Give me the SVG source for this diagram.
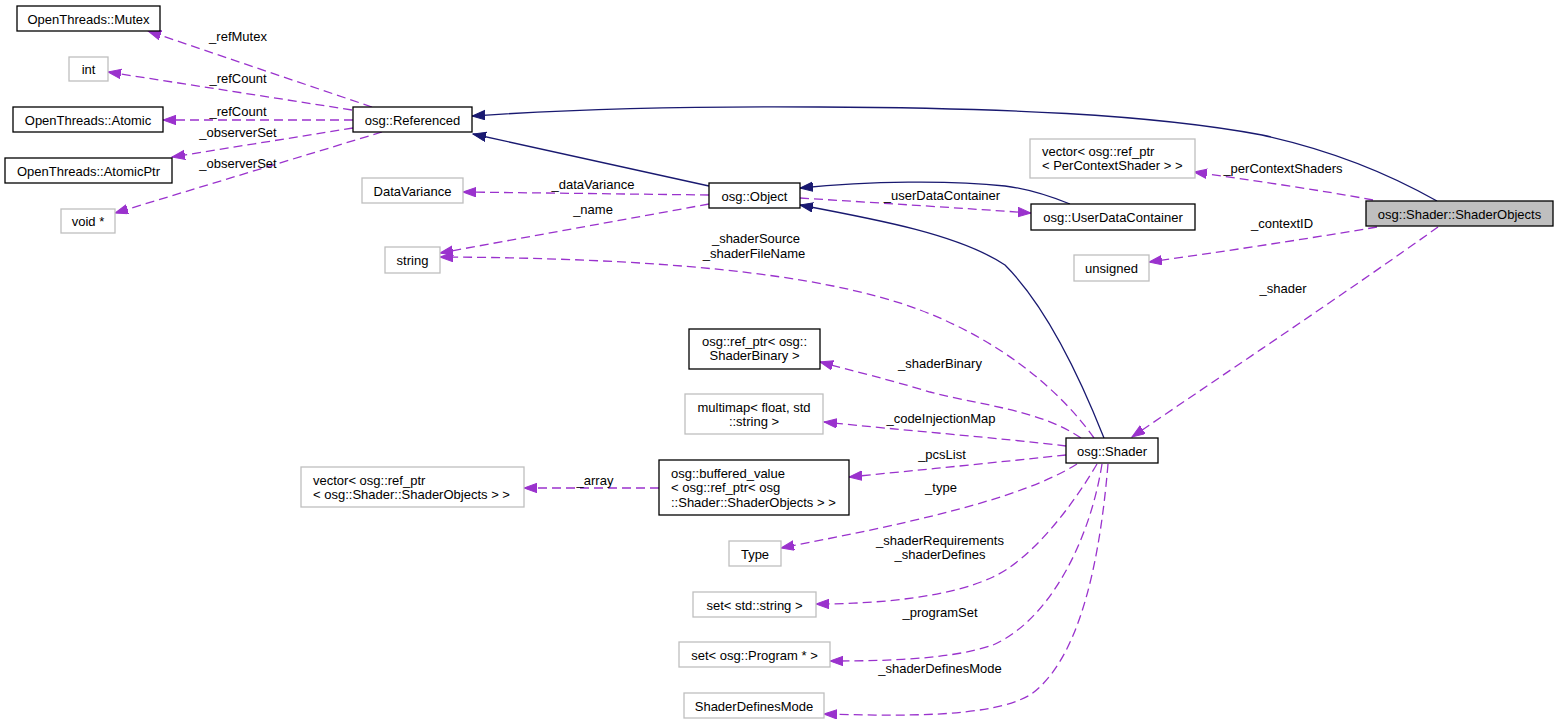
<svg xmlns="http://www.w3.org/2000/svg" width="1559" height="724" viewBox="0 0 1559 724">
<style>
.n rect{fill:#fff;stroke:#000;stroke-width:1.3}
.g rect{fill:#fff;stroke:#bfbfbf;stroke-width:1.3}
.cur rect{fill:#bfbfbf;stroke:#000;stroke-width:1.3}
text{font-family:"Liberation Sans",Arial,sans-serif;font-size:13px;fill:#000}
.c{text-anchor:middle}
.e{fill:none;stroke:#191970;stroke-width:1.3;marker-end:url(#an)}
.d{fill:none;stroke:#9a32cd;stroke-width:1.3;stroke-dasharray:9,5;marker-end:url(#ap)}
</style>
<defs>
<marker id="an" markerWidth="14" markerHeight="11" refX="13" refY="5" orient="auto" markerUnits="userSpaceOnUse"><path d="M0,0.3 L13,5 L0,9.7 Z" fill="#191970" stroke="#191970" stroke-width="1"/></marker>
<marker id="ap" markerWidth="14" markerHeight="11" refX="13" refY="5" orient="auto" markerUnits="userSpaceOnUse"><path d="M0,0.3 L13,5 L0,9.7 Z" fill="#9a32cd" stroke="#9a32cd" stroke-width="1"/></marker>
</defs>
<rect x="0" y="0" width="1559" height="724" fill="#fff"/>
<g id="edges">
<path class="e" d="M1437,201 C1400,180 1340,152 1262,135 C1150,114 1000,108 820,107 C680,106 560,110 472,116"/>
<path class="e" d="M709,186 L473,134"/>
<path class="e" d="M1070,204 C1050,196 1030,189 1005,186 C950,180 870,181 800,188"/>
<path class="e" d="M1104,438 C1085,390 1050,310 1005,265 C960,235 880,220 800,205"/>
<path class="d" d="M372,107 L148,31"/>
<path class="d" d="M352,110 L108,72"/>
<path class="d" d="M353,120 L163,120"/>
<path class="d" d="M353,128 L172,157"/>
<path class="d" d="M382,132 L115,213"/>
<path class="d" d="M709,195 L463,192"/>
<path class="d" d="M709,204 L440,253"/>
<path class="d" d="M1094,438 C1060,390 1000,340 920,310 C820,272 650,258 440,257"/>
<path class="d" d="M800,198 C880,203 960,208 1031,213"/>
<path class="d" d="M1373,200 C1320,190 1250,180 1194,172"/>
<path class="d" d="M1377,227 C1300,240 1220,252 1149,262"/>
<path class="d" d="M1438,227 C1350,290 1230,370 1132,437"/>
<path class="d" d="M1081,438 C1040,410 980,405 930,392 C890,380 850,370 820,362"/>
<path class="d" d="M1066,446 C1000,438 900,430 824,422"/>
<path class="d" d="M1066,455 C1000,462 920,470 849,477"/>
<path class="d" d="M659,488 L524,488"/>
<path class="d" d="M1077,464 C1020,500 900,525 781,548"/>
<path class="d" d="M1097,464 C1070,510 1030,560 993,577 C950,597 880,604 816,604"/>
<path class="d" d="M1102,464 C1090,540 1050,620 993,645 C950,660 880,661 830,661"/>
<path class="d" d="M1108,464 C1100,560 1080,660 1030,695 C990,718 900,716 824,714"/>
<text class="c" x="238" y="41">_refMutex</text>
<text class="c" x="238" y="83">_refCount</text>
<text class="c" x="238" y="116">_refCount</text>
<text class="c" x="238" y="137">_observerSet</text>
<text class="c" x="238" y="168">_observerSet</text>
<text class="c" x="593" y="189">_dataVariance</text>
<text class="c" x="593" y="214">_name</text>
<text class="c" x="756" y="243">_shaderSource</text>
<text class="c" x="754" y="258">_shaderFileName</text>
<text class="c" x="942" y="200">_userDataContainer</text>
<text class="c" x="1283" y="173">_perContextShaders</text>
<text class="c" x="1282" y="228">_contextID</text>
<text class="c" x="1283" y="293">_shader</text>
<text class="c" x="940" y="368">_shaderBinary</text>
<text class="c" x="941" y="423">_codeInjectionMap</text>
<text class="c" x="942" y="459">_pcsList</text>
<text class="c" x="595" y="485">_array</text>
<text class="c" x="941" y="492">_type</text>
<text class="c" x="940" y="545">_shaderRequirements</text>
<text class="c" x="940" y="559">_shaderDefines</text>
<text class="c" x="940" y="617">_programSet</text>
<text class="c" x="940" y="673">_shaderDefinesMode</text>
</g>
<g id="n_mutex" class="n"><rect x="17" y="6" width="143" height="25"/><text class="c" x="88.5" y="23.5">OpenThreads::Mutex</text></g>
<g id="n_int" class="g"><rect x="69" y="57" width="39" height="24"/><text class="c" x="88.5" y="73.5">int</text></g>
<g id="n_atomic" class="n"><rect x="13" y="107" width="150" height="25"/><text class="c" x="88" y="124.5">OpenThreads::Atomic</text></g>
<g id="n_atomicptr" class="n"><rect x="5" y="158" width="167" height="25"/><text class="c" x="88.5" y="175.5">OpenThreads::AtomicPtr</text></g>
<g id="n_void" class="g"><rect x="61" y="209" width="54" height="24"/><text class="c" x="88" y="225.5">void *</text></g>
<g id="n_referenced" class="n"><rect x="353" y="107" width="119" height="25"/><text class="c" x="412.5" y="124.5">osg::Referenced</text></g>
<g id="n_datavariance" class="g"><rect x="362" y="178" width="101" height="25"/><text class="c" x="412.5" y="195.5">DataVariance</text></g>
<g id="n_string" class="g"><rect x="385" y="247" width="55" height="26"/><text class="c" x="412.5" y="264.5">string</text></g>
<g id="n_object" class="n"><rect x="709" y="183" width="91" height="25"/><text class="c" x="754.5" y="200.5">osg::Object</text></g>
<g id="n_udc" class="n"><rect x="1031" y="204" width="164" height="26"/><text class="c" x="1113" y="221.5">osg::UserDataContainer</text></g>
<g id="n_percontext" class="g"><rect x="1030" y="139" width="165" height="39"/><text x="1042" y="156">vector&lt; osg::ref_ptr</text><text x="1042" y="170">&lt; PerContextShader &gt; &gt;</text></g>
<g id="n_shaderobjects" class="cur"><rect x="1366" y="201" width="187" height="25"/><text class="c" x="1459.5" y="218.5">osg::Shader::ShaderObjects</text></g>
<g id="n_unsigned" class="g"><rect x="1074" y="255" width="75" height="26"/><text class="c" x="1111.5" y="272.5">unsigned</text></g>
<g id="n_shaderbinary" class="n"><rect x="689" y="329" width="131" height="40"/><text class="c" x="754.5" y="345.5">osg::ref_ptr&lt; osg::</text><text class="c" x="754.5" y="359.5">ShaderBinary &gt;</text></g>
<g id="n_multimap" class="g"><rect x="685" y="394" width="138" height="40"/><text class="c" x="754" y="411.5">multimap&lt; float, std</text><text class="c" x="754" y="425.5">::string &gt;</text></g>
<g id="n_buffered" class="n"><rect x="659" y="460" width="190" height="55"/><text x="671" y="477.5">osg::buffered_value</text><text x="671" y="492">&lt; osg::ref_ptr&lt; osg</text><text x="671" y="506.5">::Shader::ShaderObjects &gt; &gt;</text></g>
<g id="n_vectorso" class="g"><rect x="301" y="467" width="223" height="40"/><text x="313" y="484.5">vector&lt; osg::ref_ptr</text><text x="313" y="498.5">&lt; osg::Shader::ShaderObjects &gt; &gt;</text></g>
<g id="n_shader" class="n"><rect x="1066" y="438" width="92" height="25"/><text class="c" x="1112" y="455.5">osg::Shader</text></g>
<g id="n_type" class="g"><rect x="729" y="541" width="52" height="25"/><text class="c" x="755" y="558.5">Type</text></g>
<g id="n_setstring" class="g"><rect x="693" y="592" width="123" height="25"/><text class="c" x="754.5" y="609.5">set&lt; std::string &gt;</text></g>
<g id="n_setprogram" class="g"><rect x="679" y="642" width="151" height="25"/><text class="c" x="754.5" y="659.5">set&lt; osg::Program * &gt;</text></g>
<g id="n_definesmode" class="g"><rect x="684" y="693" width="140" height="25"/><text class="c" x="754" y="710.5">ShaderDefinesMode</text></g>
</svg>
